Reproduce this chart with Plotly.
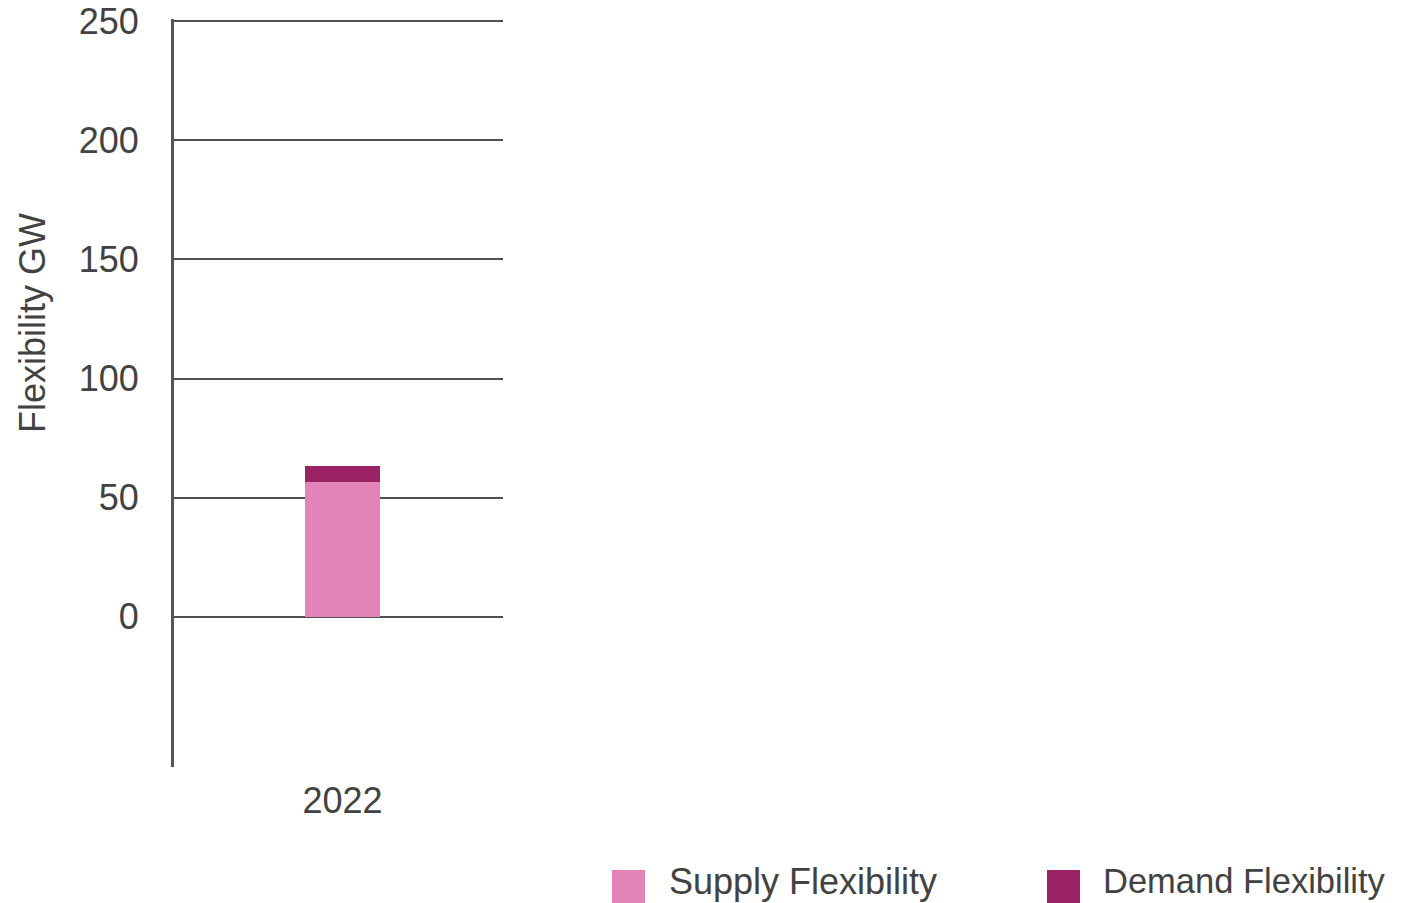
import plotly.graph_objects as go

# ---- data ----
years = ["2022"]
supply_flex = [56.5]
demand_flex = [6.8]
series_names = ["Supply Flexibility", "Demand Flexibility"]
series_colors = ["#E384B8", "#9C2266"]
y_ticks = [0, 50, 100, 150, 200, 250]

# page body has an 8px margin: lay out in window pixels, convert to figure pixels
OFF = 8
W, H = 1402 - OFF, 903 - OFF
PL, PR, PT, PB = 174, 503, 19, 767  # plot area in window pixels
L, T = PL - OFF, PT - OFF
R, B = W - (PR - OFF), H - (PB - OFF)
PW, PH = PR - PL, PB - PT
FONT = "Liberation Sans, Arial, sans-serif"
TXT = "#424242"
GRID = "#505050"
FS = 36


def px_x(px):
    return (px - PL) / PW


def px_y(py):
    return (PB - py) / PH


fig = go.Figure()
for name, vals, col in zip(series_names, [supply_flex, demand_flex], series_colors):
    fig.add_trace(go.Bar(x=years, y=vals, name=name, marker_color=col,
                         marker_line_width=0, width=0.228, showlegend=False))

shapes = []
annotations = []
legend_pos = [(612, 667, 36), (1047, 1101, 34.5)]
for (sx, tx, fs), name, col in zip(legend_pos, series_names, series_colors):
    shapes.append(dict(type="rect", xref="paper", yref="paper",
                       x0=px_x(sx), x1=px_x(sx + 33), y0=px_y(870), y1=px_y(905),
                       fillcolor=col, line_width=0, layer="above"))
    annotations.append(dict(text=name, xref="paper", yref="paper", x=px_x(tx), y=px_y(881),
                            xanchor="left", yanchor="middle", showarrow=False,
                            font=dict(size=fs, color=TXT, family=FONT)))

annotations.append(dict(text="Flexibility GW", xref="paper", yref="paper",
                        x=px_x(33), y=px_y(323), textangle=-90, xanchor="center",
                        yanchor="middle", showarrow=False,
                        font=dict(size=FS, color=TXT, family=FONT)))

fig.update_layout(
    width=W, height=H,
    margin=dict(l=L, r=R, t=T, b=B, autoexpand=False),
    barmode="stack",
    plot_bgcolor="white", paper_bgcolor="white",
    font=dict(family=FONT, size=FS, color=TXT),
    shapes=shapes, annotations=annotations,
    showlegend=False,
)
fig.update_xaxes(range=[-0.512, 0.488], showgrid=False, showline=False, zeroline=False,
                 ticks="", tickfont=dict(size=FS, color=TXT), ticklabelstandoff=9)
fig.update_yaxes(range=[-63, 250.85], tickvals=y_ticks, showgrid=True, gridcolor=GRID,
                 gridwidth=2, zeroline=True, zerolinecolor=GRID, zerolinewidth=2,
                 showline=True, linecolor="#555555", linewidth=3, ticks="",
                 ticklabeloverflow="allow",
                 tickfont=dict(size=FS, color=TXT), ticklabelstandoff=25)

fig.write_html("out.html")
